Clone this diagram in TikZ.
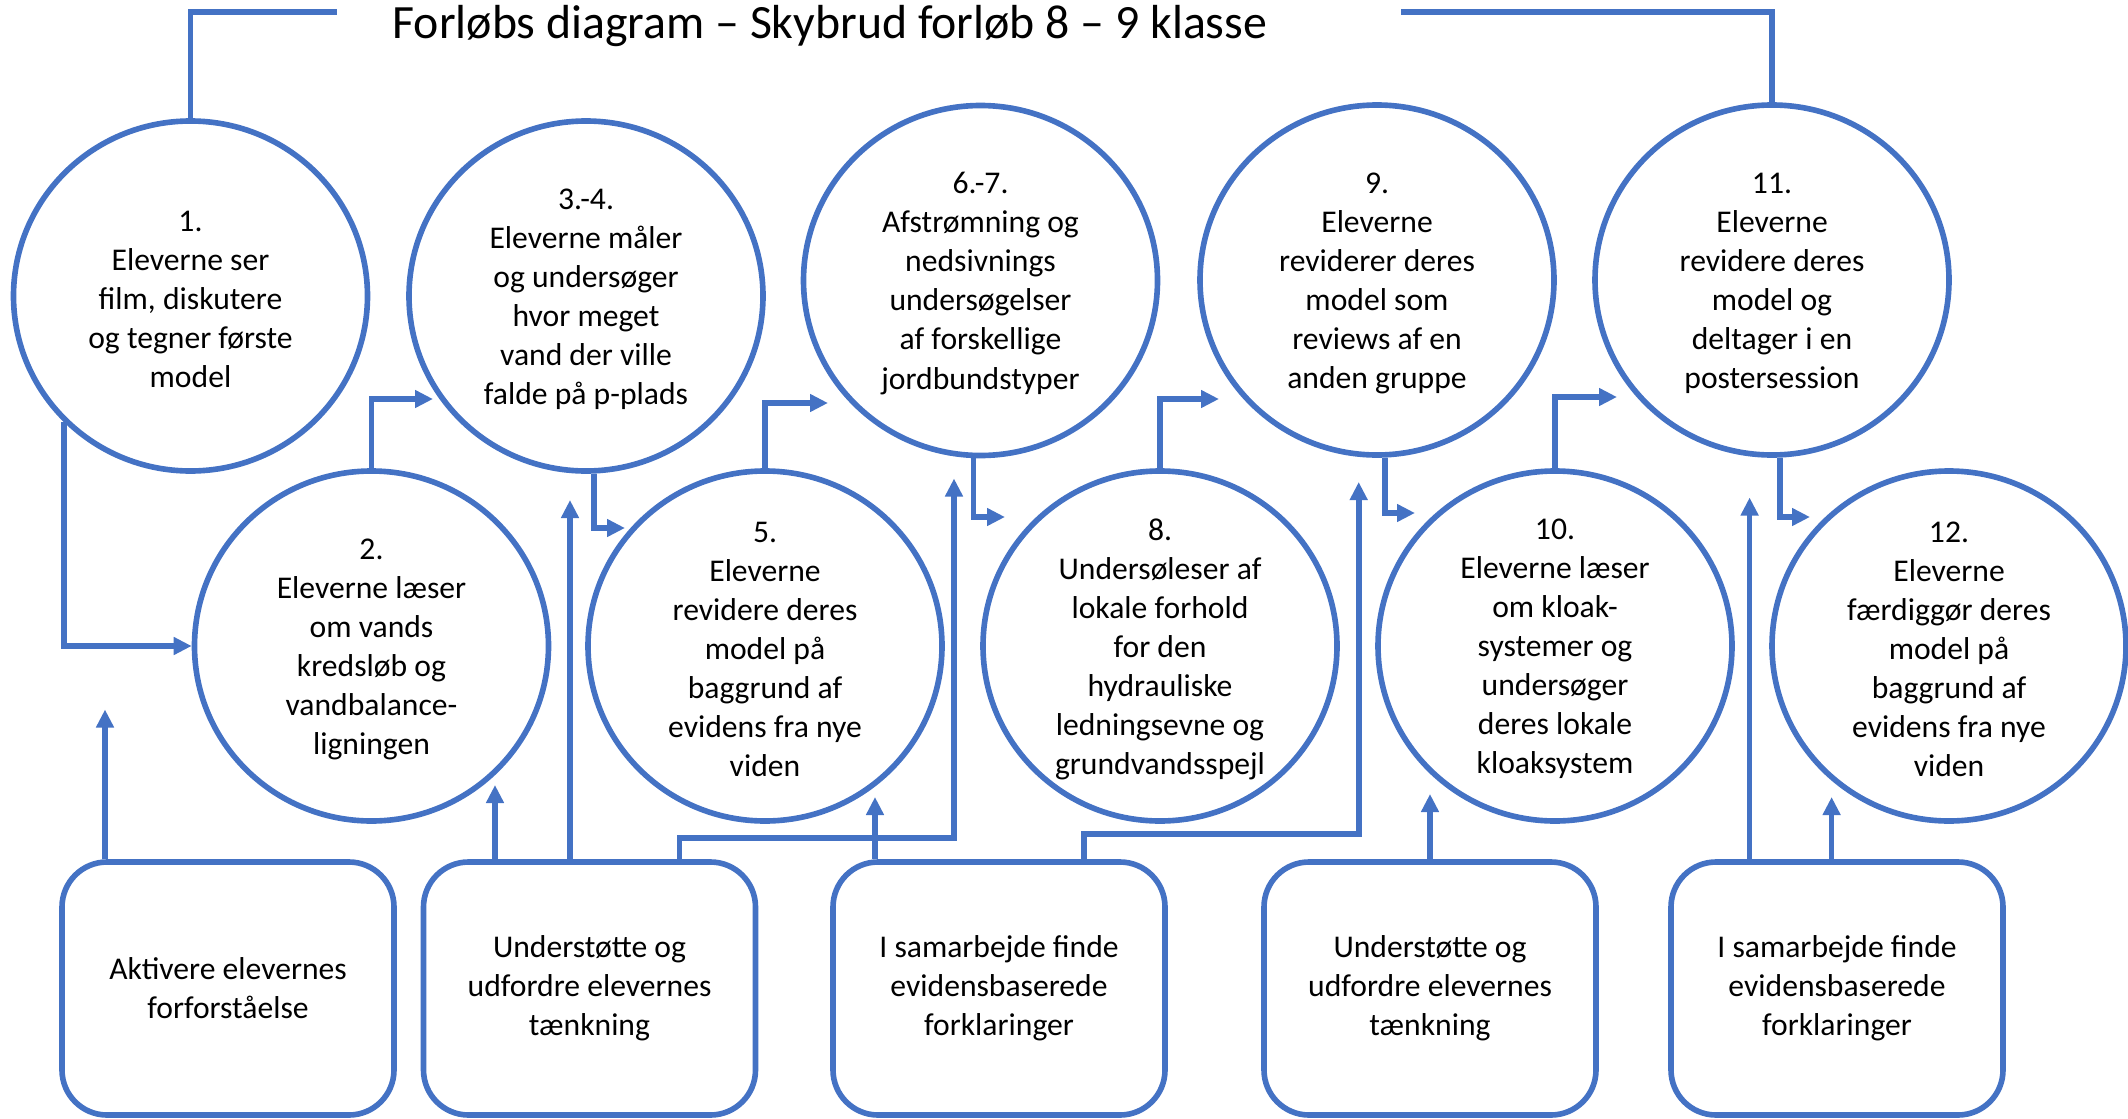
\documentclass[tikz,border=0pt]{standalone}
\usepackage{fontspec}
\setmainfont{Carlito}
\usetikzlibrary{arrows.meta,calc,shapes.geometric}
\definecolor{ablue}{HTML}{4472C4}
\begin{document}
\begin{tikzpicture}[x=0.1mm,y=-0.1mm,
  stage/.style={ellipse, draw=ablue, line width=1.6pt, minimum width=35.4mm,
    minimum height=35mm, inner sep=0pt},
  txt/.style={font=\fontsize{9}{11.1}\selectfont, align=center, inner sep=0pt,
    yshift=-0.3mm},
  role/.style={draw=ablue, line width=1.6pt, rounded corners=4.5mm,
    minimum width=33.2mm, minimum height=25.3mm, align=center,
    font=\fontsize{9}{11.1}\selectfont},
  flow/.style={draw=ablue, line width=1.6pt,
    -{Triangle[length=1.8mm,width=1.7mm]}},
  frame/.style={draw=ablue, line width=1.6pt}]

\useasboundingbox (0,0) rectangle (2128,1119);

% title
\node[font=\fontsize{13.6}{16}\selectfont, anchor=base, inner sep=0pt] (title)
  at (830,38) {Forløbs diagram – Skybrud forløb 8 – 9 klasse};

% upper row of stages
\node[stage] (E1)  at (190.5,296) {};
\node[stage] (E34) at (586,296) {};
\node[stage] (E67) at (980.5,280.5) {};
\node[stage] (E9)  at (1377,280) {};
\node[stage] (E11) at (1772,280) {};
% lower row of stages
\node[stage] (E2)  at (371.5,646) {};
\node[stage] (E5)  at (765,646) {};
\node[stage] (E8)  at (1160,646) {};
\node[stage] (E10) at (1555,646) {};
\node[stage] (E12) at (1949,646) {};

\node[txt] (E1t)  at (E1)  {1.\\Eleverne ser\\film, diskutere\\og tegner første\\model};
\node[txt] (E34t) at (E34) {3.-4.\\Eleverne måler\\og undersøger\\hvor meget\\vand der ville\\falde på p-plads};
\node[txt] (E67t) at (E67) {6.-7.\\Afstrømning og\\nedsivnings\\undersøgelser\\af forskellige\\jordbundstyper};
\node[txt] (E9t)  at (E9)  {9.\\Eleverne\\reviderer deres\\model som\\reviews af en\\anden gruppe};
\node[txt] (E11t) at (E11) {11.\\Eleverne\\revidere deres\\model og\\deltager i en\\postersession};
\node[txt] (E2t)  at (E2)  {2.\\Eleverne læser\\om vands\\kredsløb og\\vandbalance-\\ligningen};
\node[txt] (E5t)  at (E5)  {5.\\Eleverne\\revidere deres\\model på\\baggrund af\\evidens fra nye\\viden};
\node[txt] (E8t)  at (E8)  {8.\\Undersøleser af\\lokale forhold\\for den\\hydrauliske\\ledningsevne og\\grundvandsspejl};
\node[txt] (E10t) at (E10) {10.\\Eleverne læser\\om kloak-\\systemer og\\undersøger\\deres lokale\\kloaksystem};
\node[txt] (E12t) at (E12) {12.\\Eleverne\\færdiggør deres\\model på\\baggrund af\\evidens fra nye\\viden};

% teaching roles
\node[role] (R1) at (228,988.5)  {Aktivere elevernes\\forforståelse};
\node[role] (R2) at (589.5,988.5) {Understøtte og\\udfordre elevernes\\tænkning};
\node[role] (R3) at (999,988.5)  {I samarbejde finde\\evidensbaserede\\forklaringer};
\node[role] (R4) at (1430,988.5) {Understøtte og\\udfordre elevernes\\tænkning};
\node[role] (R5) at (1837,988.5) {I samarbejde finde\\evidensbaserede\\forklaringer};

% frame lines beside the title
\coordinate (tl) at (337,12);
\coordinate (tr) at (1401,12);
\draw[frame] (E1.north) |- (tl);
\draw[frame] (E11.north) |- (tr);

% sequence of stages
\coordinate (t2)  at ($(E34)+(-153,103)$);
\coordinate (t3)  at ($(E5)+(-140,-118)$);
\coordinate (t4)  at ($(E67)+(-152.5,122.5)$);
\coordinate (t5)  at ($(E8)+(-155,-129)$);
\coordinate (t6)  at ($(E9)+(-158,119)$);
\coordinate (t7)  at ($(E10)+(-140,-133)$);
\coordinate (t8)  at ($(E11)+(-155,117)$);
\coordinate (t9)  at ($(E12)+(-139,-129)$);

\draw[flow] (E1.225) |- (E2.west);
\draw[flow] (E2.north) |- (t2);
\draw[flow] ($(E34.south)+(8,0)$) |- (t3);
\draw[flow] (E5.north) |- (t4);
\draw[flow] ($(E67.south)+(-7,0)$) |- (t5);
\draw[flow] (E8.north) |- (t6);
\draw[flow] ($(E9.south)+(8,0)$) |- (t7);
\draw[flow] (E10.north) |- (t8);
\draw[flow] ($(E11.south)+(8,0)$) |- (t9);

% roles feeding the stages
\coordinate (ua) at (105,709.5);
\coordinate (ub) at ($(E2)+(123.5,139)$);
\coordinate (uc) at ($(E34)+(-16,204)$);
\coordinate (ud) at ($(E67)+(-26.5,198)$);
\coordinate (ue) at ($(E5)+(110,151)$);
\coordinate (uf) at ($(E9)+(-18.3,202)$);
\coordinate (ug) at ($(E10)+(-125,148)$);
\coordinate (uh) at ($(E11)+(-22.4,217.5)$);
\coordinate (ui) at ($(E12)+(-117.4,151)$);

\draw[flow] (R1.north -| ua) -- (ua);
\draw[flow] (R2.north -| ub) -- (ub);
\draw[flow] (R2.north -| uc) -- (uc);
\draw[flow] ($(R2.north)+(90,0)$) -- ++(0,-21) -| (ud);
\draw[flow] (R3.north -| ue) -- (ue);
\draw[flow] ($(R3.north)+(85,0)$) -- ++(0,-25) -| (uf);
\draw[flow] (R4.north -| ug) -- (ug);
\draw[flow] (R5.north -| uh) -- (uh);
\draw[flow] (R5.north -| ui) -- (ui);
\end{tikzpicture}
\end{document}
